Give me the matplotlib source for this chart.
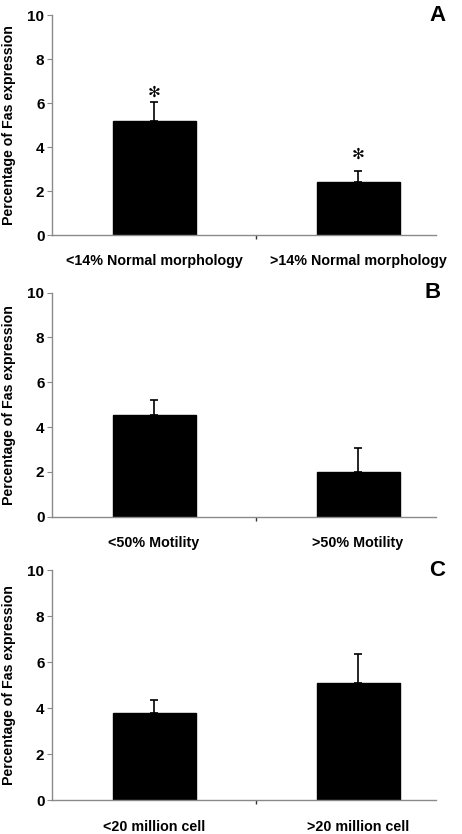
import matplotlib
matplotlib.use("Agg")
import matplotlib.pyplot as plt
import numpy as np

plt.rcParams['font.family'] = ['Liberation Sans', 'DejaVu Sans']
plt.rcParams['font.weight'] = 'bold'

panel_letters = ["A", "B", "C"]
categories_A = ["<14% Normal morphology", ">14% Normal morphology"]
values_A = [5.2, 2.39]
errors_A = [0.86, 0.53]
star_y_A = [6.5, 3.68]

categories_B = ["<50% Motility", ">50% Motility"]
values_B = [4.53, 2.01]
errors_B = [0.69, 1.04]
star_y_B = [None, None]

categories_C = ["<20 million cell", ">20 million cell"]
values_C = [3.80, 5.08]
errors_C = [0.57, 1.27]
star_y_C = [None, None]

y_ticks = [0, 2, 4, 6, 8, 10]
y_label = "Percentage of Fas expression"

panels = [
    (categories_A, values_A, errors_A, star_y_A),
    (categories_B, values_B, errors_B, star_y_B),
    (categories_C, values_C, errors_C, star_y_C),
]
positions = [
    [0.1126, 0.7182, 0.831, 0.2638],
    [0.1126, 0.3805, 0.831, 0.2686],
    [0.1126, 0.0404, 0.831, 0.2760],
]
letter_x = [1.003, 0.99, 1.003]

fig = plt.figure(figsize=(4.62, 8.34), dpi=100)
axis_grey = '#8a8a8a'
for (cats, vals, errs, stars), pos, letter, lx in zip(panels, positions, panel_letters, letter_x):
    ax = fig.add_axes(pos)
    x = np.arange(len(cats)) + 0.5
    ax.bar(x, vals, width=0.407, color='black', edgecolor='black', zorder=2)
    ax.errorbar(x, vals, yerr=[np.zeros(len(errs)), errs], fmt='none',
                ecolor='black', elinewidth=1.2, capsize=2.6, capthick=1.2, zorder=1)
    for xi, sy in zip(x, stars):
        if sy is not None:
            ax.text(xi, sy, '✻', ha='center', va='center',
                    fontsize=11, family=['DejaVu Sans'], color='black')
    ax.set_xlim(0, 1.882)
    ax.set_ylim(0, 10)
    ax.set_yticks(y_ticks)
    ax.set_yticklabels([str(t) for t in y_ticks], fontsize=11, fontweight='bold')
    ax.set_xticks([1])
    ax.set_xticklabels([''])
    ax.set_xticks(x, minor=True)
    ax.set_xticklabels(cats, minor=True, fontsize=10.3, fontweight='bold')
    ax.tick_params(axis='x', which='minor', length=0, pad=14)
    ax.tick_params(axis='x', which='major', length=3, width=1, color='#333333', direction='out')
    ax.tick_params(axis='y', length=3.5, width=0.8, color=axis_grey, direction='out', pad=2)
    for side in ['top', 'right']:
        ax.spines[side].set_visible(False)
    for side in ['left', 'bottom']:
        ax.spines[side].set_color(axis_grey)
        ax.spines[side].set_linewidth(1.0)
    ax.set_ylabel(y_label, fontsize=10.2, fontweight='bold')
    ax.yaxis.set_label_coords(-0.094, 0.5)
    ax.text(lx, 1.0, letter, transform=ax.transAxes, ha='center', va='center',
            fontsize=16, fontweight='bold')

fig.savefig('out.png', dpi=100, facecolor='white')
